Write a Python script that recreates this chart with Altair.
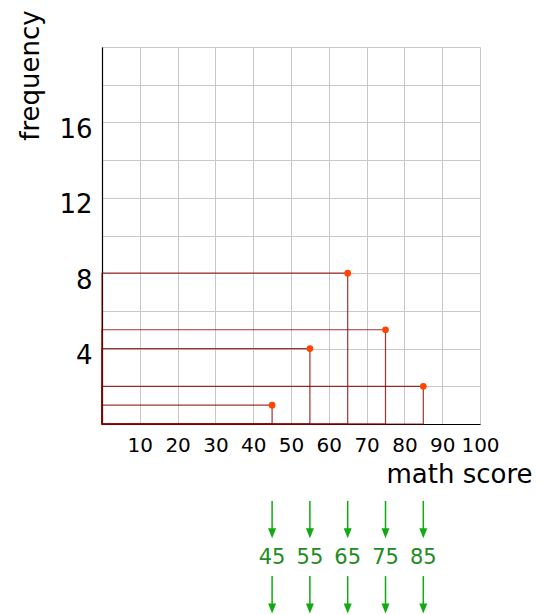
import altair as alt
import pandas as pd

# ---- data ----
scores = [45, 55, 65, 75, 85]
freqs = [1, 4, 8, 5, 2]
score_labels = ["45", "55", "65", "75", "85"]
x_ticks = [0, 10, 20, 30, 40, 50, 60, 70, 80, 90, 100]
y_ticks = [0, 2, 4, 6, 8, 10, 12, 14, 16, 18, 20]

df = pd.DataFrame({"score": scores, "freq": freqs, "label": score_labels,
                   "zero": [0] * len(scores)})

FONT = "DejaVu Sans"
GRID = "#c8c8c8"
RED = "#8B0000"
ARROW = "#11aa11"
TEXTGREEN = "#228B22"

xscale = alt.Scale(domain=[0, 100], nice=False, zero=True)
yscale = alt.Scale(domain=[0, 20], nice=False, zero=True)

x_axis = alt.Axis(
    values=x_ticks, grid=True, gridColor=GRID, gridWidth=1,
    ticks=False, tickSize=0, domainColor="black", domainWidth=1.2,
    labelFontSize=20, labelColor="black", labelFont=FONT,
    labelPadding=27, labelBaseline="alphabetic", labelFlush=False, labelOverlap=False,
    labelExpr="datum.value == 0 ? '' : datum.label",
    title="math score", titleFont=FONT, titleFontSize=26, titleFontWeight="normal",
    titleColor="black", titleAlign="right", titleAnchor="end",
    titleX=430, titleY=58, titleBaseline="alphabetic",
)
y_axis = alt.Axis(
    values=y_ticks, grid=True, gridColor=GRID, gridWidth=1,
    ticks=False, tickSize=0, domainColor="black", domainWidth=1.2,
    labelFontSize=26, labelColor="black", labelFont=FONT,
    labelPadding=10, labelBaseline="alphabetic", labelOffset=15,
    labelFlush=False, labelOverlap=False,
    labelExpr="(datum.value % 4 == 0 && datum.value > 0 && datum.value < 20) ? datum.label : ''",
    title="frequency", titleFont=FONT, titleFontSize=26, titleFontWeight="normal",
    titleColor="black", titleAngle=270, titleAlign="center", titleBaseline="middle",
    titleX=-72, titleY=28,
)

X = alt.X("score:Q", scale=xscale, axis=x_axis)
base = alt.Chart(df)

rects = base.mark_rect(fill=None, filled=False, stroke=RED, strokeWidth=1.2,
                       strokeOpacity=0.8).encode(
    x=alt.X("zero:Q", scale=xscale, axis=x_axis),
    x2="score:Q",
    y=alt.Y("zero:Q", scale=yscale, axis=y_axis),
    y2="freq:Q",
)

points = base.mark_circle(size=45, color="#FF4500", opacity=1).encode(
    x=X,
    y=alt.Y("freq:Q", scale=yscale, axis=y_axis),
)

head_path = "M-0.8,-1L0.8,-1L0,1Z"

shaft1 = base.mark_rule(color=ARROW, strokeWidth=1.5).encode(
    x=X,
    y=alt.YDatum(-4.08, scale=yscale, axis=y_axis),
    y2=alt.datum(-5.6),
)
head1 = base.mark_point(shape=head_path, filled=True, size=100, color=ARROW,
                        opacity=1).encode(
    x=X,
    y=alt.YDatum(-5.79, scale=yscale, axis=y_axis),
)
labels = base.mark_text(font=FONT, fontSize=21, color=TEXTGREEN,
                        baseline="alphabetic", align="center").encode(
    x=X,
    y=alt.YDatum(-7.43, scale=yscale, axis=y_axis),
    text="label:N",
)
shaft2 = base.mark_rule(color=ARROW, strokeWidth=1.5).encode(
    x=X,
    y=alt.YDatum(-8.07, scale=yscale, axis=y_axis),
    y2=alt.datum(-9.55),
)
head2 = base.mark_point(shape=head_path, filled=True, size=100, color=ARROW,
                        opacity=1).encode(
    x=X,
    y=alt.YDatum(-9.79, scale=yscale, axis=y_axis),
)

chart = alt.layer(rects, points, shaft1, head1, labels, shaft2, head2).properties(
    width=378, height=377,
    autosize=alt.AutoSizeParams(type="none"),
    padding={"left": 94, "top": 39, "right": 54, "bottom": 190},
).configure(font=FONT).configure_view(stroke=None)

chart.save("out.html", embed_options={"renderer": "svg", "actions": False})
